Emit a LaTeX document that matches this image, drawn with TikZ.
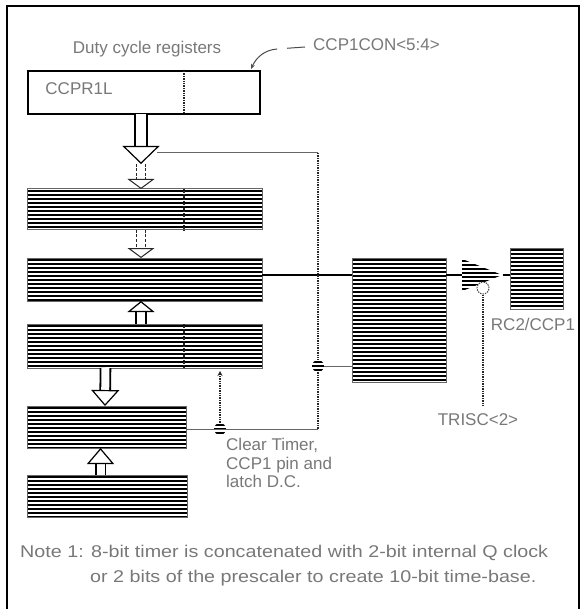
\documentclass[tikz,border=0pt]{standalone}
\usepackage{fontspec}
\setmainfont{Liberation Sans}
\usetikzlibrary{arrows.meta,shapes.geometric}
\definecolor{stipplegrey}{RGB}{120,120,120}
\tikzset{
  lbl/.style={font=\fontsize{17}{18.5}\selectfont, text=stipplegrey, inner sep=0pt, align=left},
  notelbl/.style={lbl, xscale=1.16, anchor=west},
  regbox/.style={rectangle, draw=black, line width=1.6pt, fill=white, inner sep=0pt, outer sep=0pt},
  stripes/.style={path picture={
    \foreach \s in {2,6,...,130}{
      \draw[draw=black,line width=2.2pt] ([yshift=-\s pt]path picture bounding box.north west) -- ([yshift=-\s pt]path picture bounding box.north east);
    }}},
  stripebox/.style={rectangle, stripes, draw=black!60, line width=1pt, inner sep=0pt, outer sep=0pt},
  junction/.style={circle, stripes, inner sep=0pt, minimum size=12pt},
  bubble/.style={circle, draw=black!70, dash pattern=on 1.5pt off 1pt, line width=1pt, fill=white, inner sep=0pt, minimum size=12pt},
  driver/.style={isosceles triangle, isosceles triangle apex angle=78, isosceles triangle stretches, stripes, inner sep=0pt, minimum width=32pt, minimum height=40pt},
  dotline/.style={line width=1.8pt, black!85, dash pattern=on 1.4pt off 1pt},
  wire/.style={line width=2pt, black},
  thinwire/.style={line width=1pt, black!60},
  hollow/.style={double=white, draw=black, line width=1.8pt, double distance=8pt, -{Triangle[open,length=18pt,width=37pt,line width=1.2pt,fill=white]}},
  hollowdash/.style={hollow, draw=black!85, line width=1.4pt, -{Triangle[open,length=10pt,width=27pt,line width=1pt,fill=white]}, dash pattern=on 3pt off 1.5pt},
}
\begin{document}
\begin{tikzpicture}[x=1pt,y=-1pt]
  \useasboundingbox (0,0) rectangle (584,609);
  % frame
  \draw[line width=2pt] (6.5,609) -- (6.5,6) -- (579,6) -- (579,609);
  % registers
  \node[regbox,minimum width=232pt,minimum height=43pt] (dutyreg) at (144,92.5) {};
  \foreach \n/\x/\y/\w/\h in {latchreg/144.5/209.5/235/41,dcreg/144.5/279.5/235/43,capreg/144.5/346/235/44,tmrreg/106.5/427/159/42,clkreg/107/496/160/42,rsff/399/320/94/124,pinbox/536.5/278.5/53/61}{
    \node[stripebox,minimum width=\w pt,minimum height=\h pt] (\n) at (\x,\y) {};
  }
  \node[driver,anchor=lower side] (drv) at (462,275) {};
  \node[bubble] (inv) at (483,288) {};
  \node[junction] (capdot) at (318,366) {};
  \node[junction] (clrdot) at (220,429) {};
  \coordinate (topleft) at (157,153);
  \coordinate (topright) at (318,153);
  \coordinate (botright) at (318,429);
  \coordinate (midarrow) at (141,164);
  \coordinate (ccptip) at (251,69);
  % labels
  \node[lbl] (dutylbl) at (147,49) {Duty cycle registers};
  \node[lbl,anchor=west] (ccplbl) at (313,45) {CCP1CON<5:4>};
  \node[lbl] (ccprlbl) at (79,89) {CCPR1L};
  \node[lbl] (pinlbl) at (533,324) {RC2/CCP1};
  \node[lbl] (trislbl) at (478,420) {TRISC<2>};
  \node[lbl,anchor=north west] (clrlbl) at (226,438) {Clear Timer,\\CCP1 pin and\\latch D.C.};
  \node[notelbl] (note1) at (20,553) {Note 1: 8-bit timer is concatenated with 2-bit internal Q clock};
  \node[notelbl] (note2) at (90,578) {or 2 bits of the prescaler to create 10-bit time-base.};
  % dividers
  \foreach \n in {dutyreg,latchreg,capreg}{
    \draw[dotline] (184,0 |- \n.north) -- (184,0 |- \n.south);
  }
  % wires
  \draw[wire] (dcreg.east |- drv.apex) -- (rsff.west |- drv.apex);
  \draw[wire] (rsff.east |- drv.apex) -- (drv.lower side);
  \draw[wire] (drv.apex) -- (pinbox.west |- drv.apex);
  \draw[thinwire] (capdot) -- (rsff.west |- capdot);
  \draw[thinwire] (tmrreg.east |- botright) -- (botright);
  \draw[thinwire] (topleft) -- (topright);
  \draw[dotline] (topright) -- (capdot);
  \draw[dotline] (capdot) -- (botright);
  \draw[dotline,-{Stealth[length=5pt,width=5pt]},shorten >=3pt] (clrdot) -- (capreg.south -| clrdot);
  \draw[dotline,shorten >=8pt] (inv) -- (trislbl.north -| inv);
  \draw[black!70,line width=1pt,dash pattern=on 18pt off 10pt on 45pt off 1pt,-{Stealth[length=5pt,width=4pt]}] (ccplbl.west) ++(-8,2) -- (277,49) .. controls (264,50) and (256,58) .. (ccptip);
  % bus arrows
  \draw[hollow,double distance=10pt] (dutyreg.south -| midarrow) -- (midarrow);
  \draw[hollowdash] (midarrow) -- (latchreg.north -| midarrow);
  \draw[hollowdash] (latchreg.south -| midarrow) -- (dcreg.north -| midarrow);
  \draw[hollow,-{Triangle[open,length=11pt,width=27pt,line width=1.2pt,fill=white]}] (capreg.north -| midarrow) -- (dcreg.south -| midarrow);
  \draw[hollow,-{Triangle[open,length=16pt,width=28pt,line width=1.2pt,fill=white]}] ([xshift=-39pt]capreg.south) -- ([xshift=-1.5pt]tmrreg.north);
  \draw[hollow,-{Triangle[open,length=16pt,width=27pt,line width=1.2pt,fill=white]}] ([xshift=-6.5pt]clkreg.north) -- ([xshift=-6pt]tmrreg.south);
\end{tikzpicture}
\end{document}
